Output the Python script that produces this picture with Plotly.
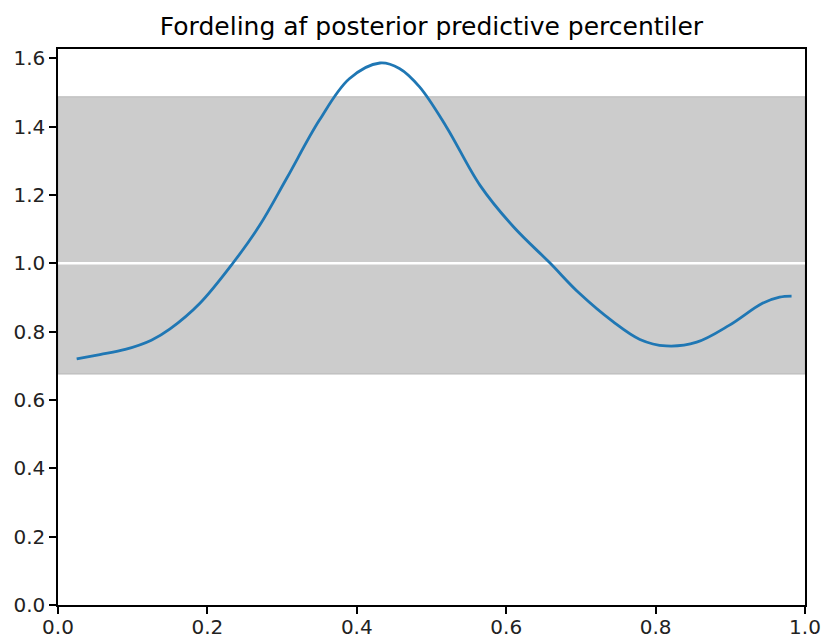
import plotly.graph_objects as go

title_text = "Fordeling af posterior predictive percentiler"

# curve (percentile -> density)
x_pct = [0.025, 0.056, 0.090, 0.125, 0.150, 0.190, 0.234, 0.270, 0.306, 0.350, 0.390,
         0.431, 0.457, 0.484, 0.520, 0.565, 0.610, 0.658, 0.698, 0.743,
         0.779, 0.814, 0.855, 0.899, 0.943, 0.966, 0.982]
y_dens = [0.720, 0.733, 0.748, 0.775, 0.808, 0.883, 1.000, 1.111, 1.248, 1.419, 1.540,
          1.586, 1.570, 1.516, 1.399, 1.228, 1.106, 1.002, 0.912, 0.829,
          0.777, 0.758, 0.769, 0.819, 0.883, 0.901, 0.904]

band_low = 0.676
band_high = 1.487
ref_level = 1.0

x_ticks = [0.0, 0.2, 0.4, 0.6, 0.8, 1.0]
y_ticks = [0.0, 0.2, 0.4, 0.6, 0.8, 1.0, 1.2, 1.4, 1.6]

fig = go.Figure()
fig.add_trace(go.Scatter(x=x_pct, y=y_dens, mode="lines",
                         line=dict(color="#1f77b4", width=2.8, shape="spline", smoothing=1.0),
                         showlegend=False))

fig.add_shape(type="rect", xref="paper", yref="y", x0=0, x1=1, y0=band_low, y1=band_high,
              fillcolor="#cccccc", line=dict(color="#b8b8b8", width=1), layer="below")
fig.add_shape(type="line", xref="paper", yref="y", x0=0, x1=1, y0=ref_level, y1=ref_level,
              line=dict(color="white", width=2.6), layer="below")

axis_common = dict(showline=True, linecolor="black", linewidth=1.5, mirror=True,
                   ticks="outside", ticklen=7, tickwidth=1.5, tickcolor="black",
                   showgrid=False, zeroline=False, automargin=False,
                   tickfont=dict(family="DejaVu Sans", size=20, color="#222"))

fig.update_layout(
    width=822, height=638,
    margin=dict(l=58, r=17, t=49, b=33),
    paper_bgcolor="white", plot_bgcolor="white",
    title=dict(text=title_text, x=(58 + 805) / 2 / 822, xanchor="center",
               y=1 - 26 / 638, yanchor="middle",
               font=dict(family="DejaVu Sans", size=25, color="black")),
    xaxis=dict(range=[0, 1], tickvals=x_ticks, ticktext=[f"{v:.1f}" for v in x_ticks],
               ticklabelstandoff=-4, **axis_common),
    yaxis=dict(range=[0, 1.627], tickvals=y_ticks, ticktext=[f"{v:.1f}" for v in y_ticks], **axis_common),
)

fig.write_html("out.html")
